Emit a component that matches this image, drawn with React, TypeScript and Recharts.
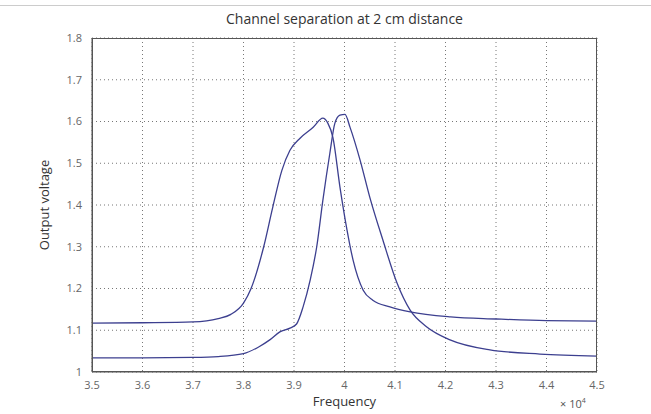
import React from 'react';
import { LineChart, Line, XAxis, YAxis, CartesianGrid } from 'recharts';

// frequency in units of 1e4 Hz
const freqA = [3.5, 3.6, 3.7, 3.75, 3.775, 3.8, 3.815, 3.84, 3.858, 3.876, 3.892, 3.912, 3.938, 3.957, 3.967, 3.977, 3.991, 4.005, 4.017, 4.037, 4.056, 4.09, 4.13, 4.21, 4.3, 4.4, 4.5];
const voltA = [1.117, 1.118, 1.12, 1.128, 1.138, 1.165, 1.2, 1.3, 1.395, 1.483, 1.531, 1.56, 1.586, 1.608, 1.596, 1.562, 1.443, 1.34, 1.268, 1.196, 1.172, 1.156, 1.144, 1.132, 1.127, 1.123, 1.122];

const freqB = [3.5, 3.6, 3.7, 3.75, 3.8, 3.83, 3.852, 3.872, 3.892, 3.905, 3.918, 3.932, 3.945, 3.957, 3.971, 3.981, 3.991, 4.001, 4.011, 4.031, 4.05, 4.076, 4.104, 4.13, 4.163, 4.209, 4.288, 4.387, 4.5];
const voltB = [1.034, 1.034, 1.035, 1.037, 1.044, 1.06, 1.077, 1.096, 1.105, 1.115, 1.156, 1.22, 1.3, 1.41, 1.524, 1.596, 1.615, 1.617, 1.586, 1.507, 1.419, 1.316, 1.213, 1.148, 1.108, 1.077, 1.053, 1.043, 1.038];

const xTicks = [3.5, 3.6, 3.7, 3.8, 3.9, 4, 4.1, 4.2, 4.3, 4.4, 4.5];
const yTicks = [1, 1.1, 1.2, 1.3, 1.4, 1.5, 1.6, 1.7, 1.8];

const seriesA = freqA.map((f, i) => ({ f, v: voltA[i] }));
const seriesB = freqB.map((f, i) => ({ f, v: voltB[i] }));

const font = '"Open Sans", "Liberation Sans", sans-serif';
const lineColor = '#3c3f8f';
const tickStyle = { fontSize: 11, fill: '#666', fontFamily: font };

export default function App() {
  return (
    <div style={{ position: 'fixed', left: 0, top: 0, width: 651, height: 414, background: '#fff', fontFamily: font }}>
      <div style={{ position: 'absolute', left: 0, right: 0, top: 5, borderTop: '1px solid #ccc' }} />
      <div style={{ position: 'absolute', left: 92, width: 505, top: 9, textAlign: 'center', fontSize: 14, color: '#333' }}>
        Channel separation at 2 cm distance
      </div>
      <div style={{ position: 'absolute', left: 560, top: 396, fontSize: 11, color: '#555' }}>
        × 10<sup style={{ fontSize: 7 }}>4</sup>
      </div>
      <LineChart width={651} height={414} margin={{ top: 38, right: 54, bottom: 0, left: 0 }}>
        <CartesianGrid stroke="#777" strokeDasharray="1 3" syncWithTicks />
        <XAxis
          dataKey="f"
          type="number"
          domain={[3.5, 4.5]}
          ticks={xTicks}
          tickFormatter={(t: number) => String(t)}
          tick={tickStyle}
          tickLine={false}
          axisLine={{ stroke: '#555' }}
          height={42}
          tickMargin={3}
          allowDuplicatedCategory={false}
          label={{ value: 'Frequency', position: 'insideBottom', offset: 8, style: { fontSize: 13, fill: '#333', fontFamily: font } }}
        />
        <YAxis
          type="number"
          domain={[1, 1.8]}
          ticks={yTicks}
          tickFormatter={(t: number) => String(t)}
          tick={tickStyle}
          tickLine={false}
          axisLine={{ stroke: '#555' }}
          width={92}
          tickMargin={4}
          label={{ value: 'Output voltage', angle: -90, position: 'insideLeft', offset: 44, style: { fontSize: 13, fill: '#333', fontFamily: font, textAnchor: 'middle' } }}
        />
        <Line data={seriesA} dataKey="v" type="monotone" stroke={lineColor} strokeWidth={1.3} dot={false} isAnimationActive={false} />
        <Line data={seriesB} dataKey="v" type="monotone" stroke={lineColor} strokeWidth={1.3} dot={false} isAnimationActive={false} />
      </LineChart>
      <div style={{ position: 'absolute', left: 92, top: 38, width: 505, height: 334, boxSizing: 'border-box', border: '1px solid #555', pointerEvents: 'none' }} />
    </div>
  );
}
